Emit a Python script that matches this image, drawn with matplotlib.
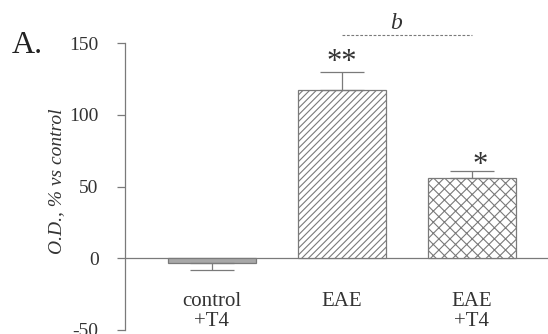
"""Bar chart: O.D. as % vs control for control+T4, EAE, EAE+T4."""
import matplotlib
matplotlib.use("Agg")
import matplotlib.pyplot as plt

groups = ["control\n+T4", "EAE", "EAE\n+T4"]
values = [-3, 117, 56]
errors = [5, 13, 5]
stars = ["", "**", "*"]
hatches = ["", "/////", "xxx"]
fills = ["#a8a8a8", "white", "white"]
yticks = [-50, 0, 50, 100, 150]

plt.rcParams["font.family"] = ["Liberation Serif", "DejaVu Serif"]
plt.rcParams["hatch.linewidth"] = 0.8
plt.rcParams["hatch.color"] = "#7a7a7a"

GRAY = "#7a7a7a"
TXT = "#333333"

fig = plt.figure(figsize=(5.48, 3.34), dpi=100)
ax = fig.add_axes([125 / 548, 4 / 334, 423 / 548, 287 / 334])

x = list(range(len(groups)))
for i in x:
    ax.bar(i, values[i], width=0.67, color=fills[i], edgecolor=GRAY,
           hatch=hatches[i], linewidth=0.9, zorder=2)
    # one-sided error bar, in the direction of the bar
    sign = 1 if values[i] >= 0 else -1
    lo = [0] if sign > 0 else [errors[i]]
    hi = [errors[i]] if sign > 0 else [0]
    ax.errorbar(i, values[i], yerr=[lo, hi], fmt="none", ecolor=GRAY,
                elinewidth=0.9, capsize=16, capthick=0.9, zorder=3)

ax.axhline(0, color=GRAY, linewidth=0.9, zorder=1)

ax.set_xlim(-0.669, 2.585)
ax.set_ylim(-50, 150)
ax.set_yticks(yticks)
ax.set_yticklabels([str(v) for v in yticks], fontsize=14, color=TXT)
ax.tick_params(axis="y", direction="out", length=6, width=0.9, color=GRAY, pad=13)
ax.set_xticks([])

for side in ["top", "right", "bottom"]:
    ax.spines[side].set_visible(False)
ax.spines["left"].set_color(GRAY)
ax.spines["left"].set_linewidth(0.9)

# category labels under the zero line
for i, g in enumerate(groups):
    ax.text(i, -23.5, g, ha="center", va="top", fontsize=15, color=TXT,
            linespacing=1.05)

# significance marks
ax.text(1, 136.5, stars[1], ha="center", va="center", fontsize=22, color=TXT)
ax.text(2.06, 64.5, stars[2], ha="center", va="center", fontsize=22, color=TXT)
ax.plot([1, 2], [155.5, 155.5], linestyle=(0, (2.5, 1.5)), color=GRAY,
        linewidth=0.8, clip_on=False)
ax.text(1.42, 160, "b", ha="center", va="baseline", fontsize=17,
        style="italic", color=TXT, clip_on=False)

fig.text(57 / 548, 1 - 181 / 334, "O.D., % vs control", rotation=90,
         ha="center", va="center", fontsize=14, style="italic", color=TXT)
fig.text(12 / 548, 1 - 53 / 334, "A.", ha="left", va="baseline", fontsize=23,
         color="#222222")

fig.savefig("out.png", dpi=100, facecolor="white")
